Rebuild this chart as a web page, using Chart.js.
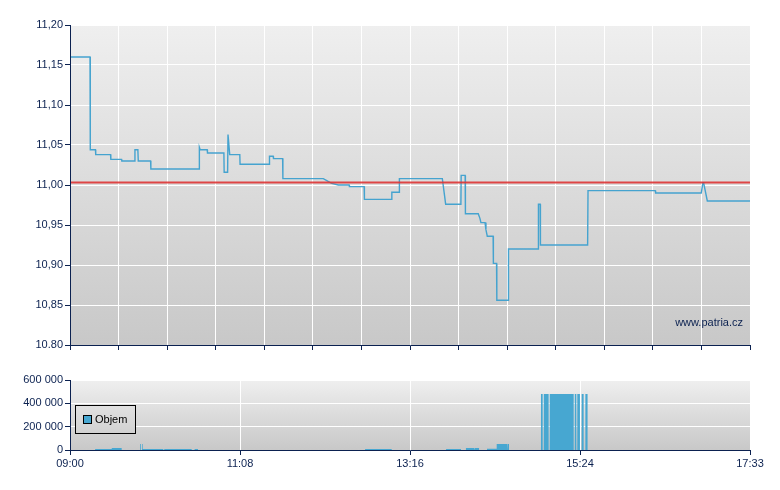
<!DOCTYPE html>
<html><head><meta charset="utf-8">
<script src="https://cdn.jsdelivr.net/npm/chart.js@4.4.1/dist/chart.umd.min.js"></script>
<style>
html,body{margin:0;padding:0;background:#fff;}
#wrap{position:relative;width:780px;height:490px;overflow:hidden;}
#priceCanvas{position:absolute;left:0;top:0;}
#volCanvas{position:absolute;left:0;top:360px;}
</style></head><body>
<div id="wrap">
<canvas id="priceCanvas" width="780" height="360"></canvas>
<canvas id="volCanvas" width="780" height="130"></canvas>
</div>
<script>
// ---- data (minutes after 09:00) ----
const sessionMinutes = 513; // 09:00 - 17:33
const timeLabels = ["09:00","11:08","13:16","15:24","17:33"];
const priceTickValues = [10.80,10.85,10.90,10.95,11.00,11.05,11.10,11.15,11.20];
const priceTickLabels = ["10.80","10,85","10,90","10,95","11,00","11,05","11,10","11,15","11,20"];
const volumeTickValues = [0,200000,400000,600000];
const volumeTickLabels = ["0","200 000","400 000","600 000"];
const referencePrice = 11.003;
const watermark = "www.patria.cz";
const volumeLabel = "Objem";

const priceTimes = [0,15.1,15.3,19.2,19.4,30.6,30.8,38.9,39.1,48.7,49.0,51.2,51.5,60.8,61.0,97.4,97.6,98.2,103.5,103.7,116.1,116.3,118.9,119.2,120.5,128.1,128.3,150.3,150.5,153.3,153.5,160.4,160.6,191.1,197.4,202.4,210.6,210.8,221.9,222.1,242.6,242.8,248.3,248.5,280.9,283.4,294.9,295.1,298.1,298.3,308.0,309.3,310.0,313.1,313.8,314.8,319.2,319.4,321.8,322.0,330.6,330.8,353.2,353.4,354.7,354.9,390.5,390.8,441.5,441.8,476.2,477.5,478.0,480.8,513];
const priceValues = [11.160,11.160,11.044,11.044,11.038,11.038,11.032,11.032,11.030,11.030,11.044,11.044,11.030,11.030,11.020,11.020,11.047,11.044,11.044,11.040,11.040,11.016,11.016,11.063,11.038,11.038,11.026,11.026,11.036,11.036,11.033,11.033,11.008,11.008,11.002,11.000,11.000,10.998,10.998,10.982,10.982,10.991,10.991,11.008,11.008,10.976,10.976,11.012,11.012,10.964,10.964,10.958,10.953,10.953,10.944,10.936,10.936,10.902,10.902,10.856,10.856,10.920,10.920,10.976,10.976,10.925,10.925,10.993,10.993,10.990,10.990,11.003,11.003,10.980,10.980];

const volumeStart = [18.9,31.5,52.8,54.3,54.9,71.1,94.0,222.6,283.7,298.7,305.5,314.6,321.9,330.4,355.3,357.4,361.9,380.8,382.7,386.0,388.8];
const volumeEnd   = [31.5,39.0,53.4,54.8,70.4,91.8,96.6,242.7,295.0,304.8,308.6,321.9,329.9,331.2,356.6,361.1,380.0,382.0,384.7,387.5,390.6];
const volumeValues= [9000,18000,51000,51000,8000,8000,8000,8000,8000,18000,18000,11000,51000,51000,480000,480000,480000,480000,480000,480000,480000];

// ---- styles ----
const FONT = {family:"'Liberation Sans', Arial, sans-serif", size:11};
const TEXT = '#0b2150';
const AXIS = '#0b2150';
const LINE = '#45a3cf';
const BAR = '#47a7d1';

function areaGradient(chart){
  const a = chart.chartArea;
  const g = chart.ctx.createLinearGradient(0,a.top,0,a.bottom);
  g.addColorStop(0,'#efefef');
  g.addColorStop(1,'#c8c8c8');
  return g;
}
const bgPlugin = {
  id:'areaBg',
  beforeDraw(chart){
    const a = chart.chartArea, ctx = chart.ctx;
    ctx.save();
    ctx.fillStyle = areaGradient(chart);
    ctx.fillRect(a.left,a.top,a.right-a.left,a.bottom-a.top);
    ctx.restore();
  }
};
const watermarkPlugin = {
  id:'watermark',
  afterDraw(chart){
    const a = chart.chartArea, ctx = chart.ctx;
    ctx.save();
    ctx.font = "11px 'Liberation Sans', Arial, sans-serif";
    ctx.fillStyle = TEXT;
    ctx.textAlign = 'right';
    ctx.textBaseline = 'middle';
    ctx.fillText(watermark, a.right-7, a.bottom-22);
    ctx.restore();
  }
};
const legendPlugin = {
  id:'boxLegend',
  afterDraw(chart){
    const a = chart.chartArea, ctx = chart.ctx;
    const ds = chart.data.datasets[0];
    const bx = a.left+5.5, by = a.top+25.5, bw = 60, bh = 28;
    ctx.save();
    ctx.fillStyle = areaGradient(chart);
    ctx.fillRect(bx,by,bw,bh);
    ctx.strokeStyle = '#000';
    ctx.lineWidth = 1;
    ctx.strokeRect(bx,by,bw,bh);
    ctx.fillStyle = ds.backgroundColor;
    ctx.fillRect(bx+8,by+10,8,8);
    ctx.strokeRect(bx+8,by+10,8,8);
    ctx.font = "11px 'Liberation Sans', Arial, sans-serif";
    ctx.fillStyle = '#000';
    ctx.textBaseline = 'middle';
    ctx.fillText(ds.label, bx+19.5, by+14.5);
    ctx.restore();
  }
};

const priceGridMinutes = [];
for (let i=0;i<=14;i++) priceGridMinutes.push(i*sessionMinutes/14);

new Chart(document.getElementById('priceCanvas'), {
  type:'line',
  data:{
    datasets:[
      {label:'ref', data:[{x:0,y:referencePrice},{x:sessionMinutes,y:referencePrice}],
       borderColor:'rgba(222,52,52,0.9)', borderWidth:2, pointRadius:0},
      {label:'Cena', data:priceTimes.map((t,i)=>({x:t,y:priceValues[i]})),
       borderColor:LINE, borderWidth:1.4, pointRadius:0, tension:0}
    ]
  },
  options:{
    responsive:false, animation:false,
    layout:{padding:{left:0,right:30,top:25,bottom:0}},
    plugins:{legend:{display:false},tooltip:{enabled:false}},
    scales:{
      x:{type:'linear',min:0,max:sessionMinutes,
        afterBuildTicks:s=>{s.ticks=priceGridMinutes.map(v=>({value:v}));},
        afterFit:s=>{s.height=15;},
        ticks:{display:false},
        grid:{color:'#ffffff',lineWidth:1,tickColor:AXIS,tickLength:5},
        border:{color:AXIS,width:1,z:1}},
      y:{type:'linear',min:10.8,max:11.2,
        afterBuildTicks:s=>{s.ticks=priceTickValues.map(v=>({value:v}));},
        afterFit:s=>{s.width=70;},
        ticks:{color:TEXT,font:FONT,padding:2,callback:(v,i)=>priceTickLabels[i]},
        grid:{color:'#ffffff',lineWidth:1,tickColor:AXIS,tickLength:5},
        border:{color:AXIS,width:1,z:1}}
    }
  },
  plugins:[bgPlugin,watermarkPlugin]
});

const volumePoints = [];
volumeStart.forEach((s,i)=>{
  const e = volumeEnd[i], v = volumeValues[i];
  volumePoints.push({x:s,y:0},{x:s,y:v},{x:e,y:v},{x:e,y:0});
});

new Chart(document.getElementById('volCanvas'), {
  type:'line',
  data:{
    datasets:[
      {label:volumeLabel, data:volumePoints, backgroundColor:BAR, borderColor:BAR,
       borderWidth:0, pointRadius:0, tension:0, fill:'origin'}
    ]
  },
  options:{
    responsive:false, animation:false,
    layout:{padding:{left:0,right:30,top:20,bottom:0}},
    plugins:{legend:{display:false},tooltip:{enabled:false}},
    scales:{
      x:{type:'linear',min:0,max:sessionMinutes,
        afterBuildTicks:s=>{s.ticks=timeLabels.map((_,i)=>({value:i*sessionMinutes/(timeLabels.length-1)}));},
        afterFit:s=>{s.height=40;},
        ticks:{color:TEXT,font:FONT,padding:2,maxRotation:0,autoSkip:false,callback:(v,i)=>timeLabels[i]},
        grid:{color:'#ffffff',lineWidth:1,tickColor:AXIS,tickLength:5},
        border:{color:AXIS,width:1,z:1}},
      y:{type:'linear',min:0,max:600000,
        afterBuildTicks:s=>{s.ticks=volumeTickValues.map(v=>({value:v}));},
        afterFit:s=>{s.width=70;},
        ticks:{color:TEXT,font:FONT,padding:2,callback:(v,i)=>volumeTickLabels[i]},
        grid:{color:'#ffffff',lineWidth:1,tickColor:AXIS,tickLength:5},
        border:{color:AXIS,width:1,z:1}}
    }
  },
  plugins:[bgPlugin,legendPlugin]
});
</script>
</body></html>
